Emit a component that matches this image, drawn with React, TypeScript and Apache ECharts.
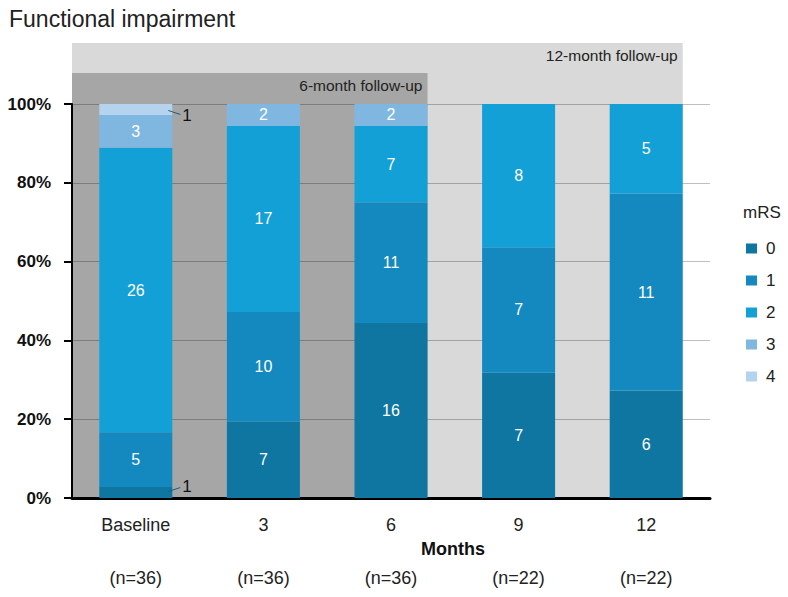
import { useEffect, useRef } from "react";
import * as echarts from "echarts";

// Visit labels and sample size per visit
const categories = ["Baseline", "3", "6", "9", "12"];
const sampleSizes = [36, 36, 36, 22, 22];

// Patient counts per modified Rankin Scale score at each visit
const mrsLevels = ["0", "1", "2", "3", "4"];
const mrs0 = [1, 7, 16, 7, 6];
const mrs1 = [5, 10, 11, 7, 11];
const mrs2 = [26, 17, 7, 8, 5];
const mrs3 = [3, 2, 2, 0, 0];
const mrs4 = [1, 0, 0, 0, 0];
const countsByLevel = [mrs0, mrs1, mrs2, mrs3, mrs4];

const yTicks = [0, 20, 40, 60, 80, 100];

// Follow-up windows: label and index of the last visit they cover
const followUps = [
  { label: "12-month follow-up", lastIndex: 4, top: 43 },
  { label: "6-month follow-up", lastIndex: 2, top: 73 },
];

const levelColors = ["#0e76a0", "#1489bf", "#12a0d7", "#80b7e1", "#b5d3ee"];
const FONT = "'Liberation Sans', Arial, Helvetica, sans-serif";
const BAR_WIDTH = 73;
const SMALL_SEGMENT = 5; // percent; smaller segments get an outside label

const pct = (count: number, i: number) => (count / sampleSizes[i]) * 100;

export default function App() {
  const ref = useRef<HTMLDivElement>(null);

  useEffect(() => {
    if (!ref.current) return;
    const chart = echarts.init(ref.current, null, { renderer: "svg" });

    const series = countsByLevel.map((counts, li) => ({
      name: mrsLevels[li],
      type: "bar",
      stack: "mrs",
      barWidth: BAR_WIDTH,
      itemStyle: { color: levelColors[li] },
      data: counts.map((c, i) => {
        const v = pct(c, i);
        return {
          value: v,
          label: { show: c > 0 && v >= SMALL_SEGMENT },
        };
      }),
      label: {
        show: true,
        position: "inside",
        color: "#ffffff",
        fontSize: 16,
        fontFamily: FONT,
        formatter: (p: any) => String(counts[p.dataIndex]),
      },
      emphasis: { disabled: true },
    }));

    chart.setOption({
      animation: false,
      title: {
        text: "Functional impairment",
        left: 4,
        top: 2,
        textStyle: { fontSize: 23, fontWeight: "normal", color: "#222", fontFamily: FONT },
      },
      legend: {
        data: mrsLevels,
        orient: "vertical",
        left: 741,
        top: 235,
        itemWidth: 11,
        itemHeight: 10,
        itemGap: 15,
        icon: "rect",
        textStyle: { fontSize: 17, color: "#222", fontFamily: FONT, padding: [0, 0, 0, 4] },
        selectedMode: false,
      },
      grid: { left: 72, right: 78, top: 104, bottom: 99, containLabel: false },
      xAxis: {
        type: "category",
        data: categories,
        axisTick: { show: false },
        axisLine: { lineStyle: { color: "#000", width: 3 } },
        axisLabel: {
          margin: 17,
          formatter: (v: string, i: number) => `{c|${v}}\n{n|(n=${sampleSizes[i]})}`,
          rich: {
            c: { fontSize: 18, lineHeight: 20, color: "#222", fontFamily: FONT },
            n: { fontSize: 18, lineHeight: 86, color: "#222", fontFamily: FONT },
          },
        },
      },
      yAxis: {
        type: "value",
        min: yTicks[0],
        max: yTicks[yTicks.length - 1],
        interval: 20,
        axisLine: { show: true, lineStyle: { color: "#000", width: 2 } },
        axisTick: { show: true, length: 8, lineStyle: { color: "#000", width: 2 } },
        axisLabel: {
          margin: 21,
          formatter: "{value}%",
          fontSize: 17,
          fontWeight: "bold",
          color: "#111",
          fontFamily: FONT,
        },
        splitLine: { lineStyle: { color: "rgba(0,0,0,0.25)", width: 1 } },
      },
      series,
    });

    // Background bands, outside labels and axis title, placed from the axis scales
    const toPx = (ci: number, v: number) =>
      chart.convertToPixel({ gridIndex: 0 }, [ci, v]) as number[];
    const origin = toPx(0, 0);
    const plotLeft = origin[0] - (toPx(1, 0)[0] - origin[0]) / 2;
    const graphics: any[] = [];

    followUps.forEach((f, k) => {
      const right = toPx(f.lastIndex, 0)[0] + BAR_WIDTH / 2;
      graphics.push({
        type: "rect",
        z: -10 + k,
        silent: true,
        shape: { x: plotLeft, y: f.top, width: right - plotLeft, height: origin[1] - f.top },
        style: { fill: k === 0 ? "#d9d9d9" : "#a6a6a6" },
      });
      graphics.push({
        type: "text",
        z: 5,
        silent: true,
        x: right - 5,
        y: f.top + 12,
        style: {
          text: f.label,
          fontSize: 15.5,
          fill: "#222",
          fontFamily: FONT,
          align: "right",
          verticalAlign: "middle",
        },
      });
    });

    categories.forEach((_, ci) => {
      let base = 0;
      countsByLevel.forEach((counts) => {
        const c = counts[ci];
        const v = pct(c, ci);
        if (c > 0 && v < SMALL_SEGMENT) {
          const mid = toPx(ci, base + v / 2);
          const right = mid[0] + BAR_WIDTH / 2;
          const dir = base + v >= 99.9 ? 1 : -1;
          graphics.push({
            type: "line",
            z: 5,
            silent: true,
            shape: { x1: right - 4, y1: mid[1] + dir * 1, x2: right + 8, y2: mid[1] + dir * 5 },
            style: { stroke: "#1d5f7a", lineWidth: 1 },
          });
          graphics.push({
            type: "text",
            z: 5,
            silent: true,
            x: right + 10,
            y: mid[1] + dir * 6,
            style: {
              text: String(c),
              fontSize: 17,
              fill: "#111",
              fontFamily: FONT,
              align: "left",
              verticalAlign: "middle",
            },
          });
        }
        base += v;
      });
    });

    graphics.push({
      type: "text",
      silent: true,
      x: 453,
      y: origin[1] + 51,
      style: {
        text: "Months",
        fontSize: 18,
        fontWeight: "bold",
        fill: "#111",
        fontFamily: FONT,
        align: "center",
        verticalAlign: "middle",
      },
    });
    graphics.push({
      type: "text",
      silent: true,
      x: 743,
      y: 212,
      style: {
        text: "mRS",
        fontSize: 17,
        fill: "#222",
        fontFamily: FONT,
        align: "left",
        verticalAlign: "middle",
      },
    });

    chart.setOption({ graphic: graphics });

    return () => chart.dispose();
  }, []);

  return (
    <div
      ref={ref}
      style={{ position: "fixed", left: 0, top: 0, width: 788, height: 597, background: "#fff" }}
    />
  );
}
